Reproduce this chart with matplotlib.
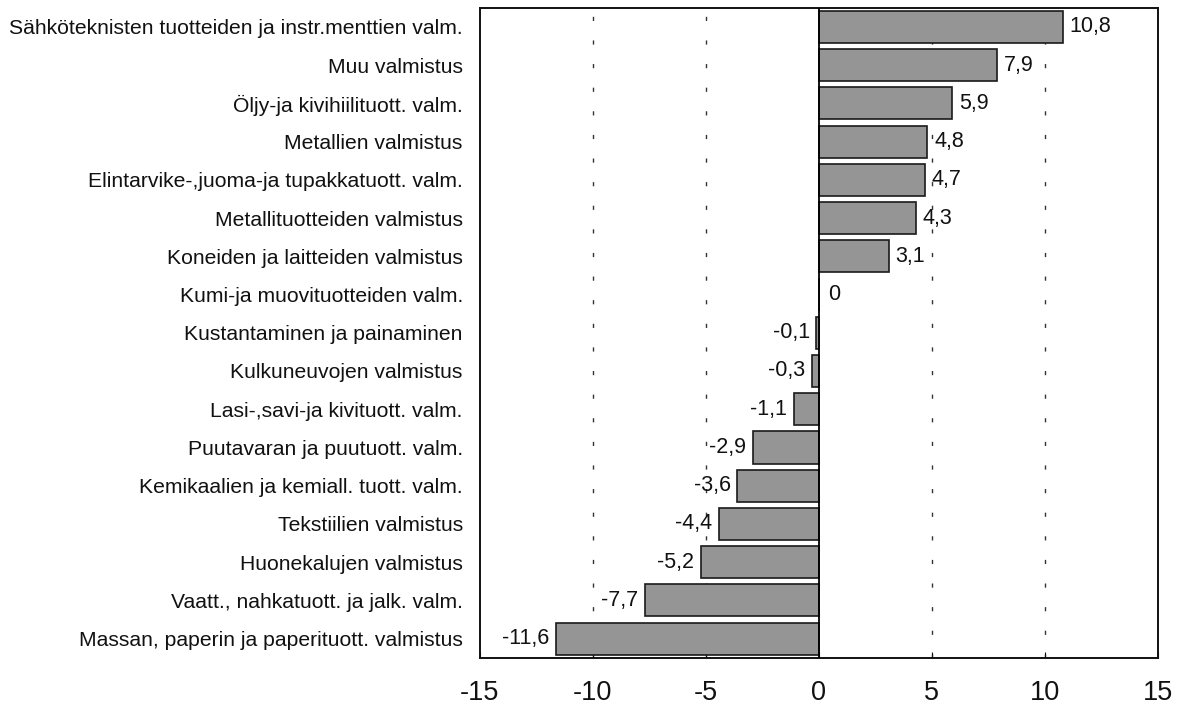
import matplotlib
matplotlib.use("Agg")
import matplotlib.pyplot as plt

categories = [
    "Sähköteknisten tuotteiden ja instr.menttien valm.",
    "Muu valmistus",
    "Öljy-ja kivihiilituott. valm.",
    "Metallien valmistus",
    "Elintarvike-,juoma-ja tupakkatuott. valm.",
    "Metallituotteiden valmistus",
    "Koneiden ja laitteiden valmistus",
    "Kumi-ja muovituotteiden valm.",
    "Kustantaminen ja painaminen",
    "Kulkuneuvojen valmistus",
    "Lasi-,savi-ja kivituott. valm.",
    "Puutavaran ja puutuott. valm.",
    "Kemikaalien ja kemiall. tuott. valm.",
    "Tekstiilien valmistus",
    "Huonekalujen valmistus",
    "Vaatt., nahkatuott. ja jalk. valm.",
    "Massan, paperin ja paperituott. valmistus",
]
values = [10.8, 7.9, 5.9, 4.8, 4.7, 4.3, 3.1, 0, -0.1, -0.3, -1.1, -2.9, -3.6, -4.4, -5.2, -7.7, -11.6]
xticks = [-15, -10, -5, 0, 5, 10, 15]

plt.rcParams['font.family'] = ['Liberation Sans', 'DejaVu Sans']

fig = plt.figure(figsize=(11.84, 7.05), dpi=100)
ax = fig.add_axes([0.405, 0.067, 0.573, 0.922])

ypos = list(range(len(categories)))
ax.barh(ypos, values, height=0.84, color='#959595', edgecolor='#1a1a1a', linewidth=1.2, zorder=3)

for x in [-10, -5, 5, 10]:
    ax.axvline(x, color='#333333', linestyle=(0, (3, 14)), linewidth=1.0, zorder=1)
ax.axvline(0, color='black', linewidth=1.3, zorder=4)

for y, v in zip(ypos, values):
    s = f"{v:.1f}".replace('.', ',') if v != 0 else "0"
    if v > 0:
        ax.text(v + 0.3, y, s, va='center', ha='left', fontsize=15.5, color='#111111')
    elif v < 0:
        ax.text(v - 0.3, y, s, va='center', ha='right', fontsize=15.5, color='#111111')
    else:
        ax.text(0.4, y, s, va='center', ha='left', fontsize=15.5, color='#111111')

ax.set_xlim(-15, 15)
ax.set_ylim(len(categories) - 0.5, -0.5)
ax.set_xticks(xticks)
ax.set_xticklabels([str(t) for t in xticks], fontsize=19.5)
ax.set_yticks(ypos)
ax.set_yticklabels(categories, fontsize=15.2, color='#111111')
ax.tick_params(axis='y', length=0, pad=12)
ax.tick_params(axis='x', direction='in', length=4, pad=16, colors='#111111')
for sp in ax.spines.values():
    sp.set_linewidth(1.4)
    sp.set_color('#111111')

fig.savefig("out.png", dpi=100)
